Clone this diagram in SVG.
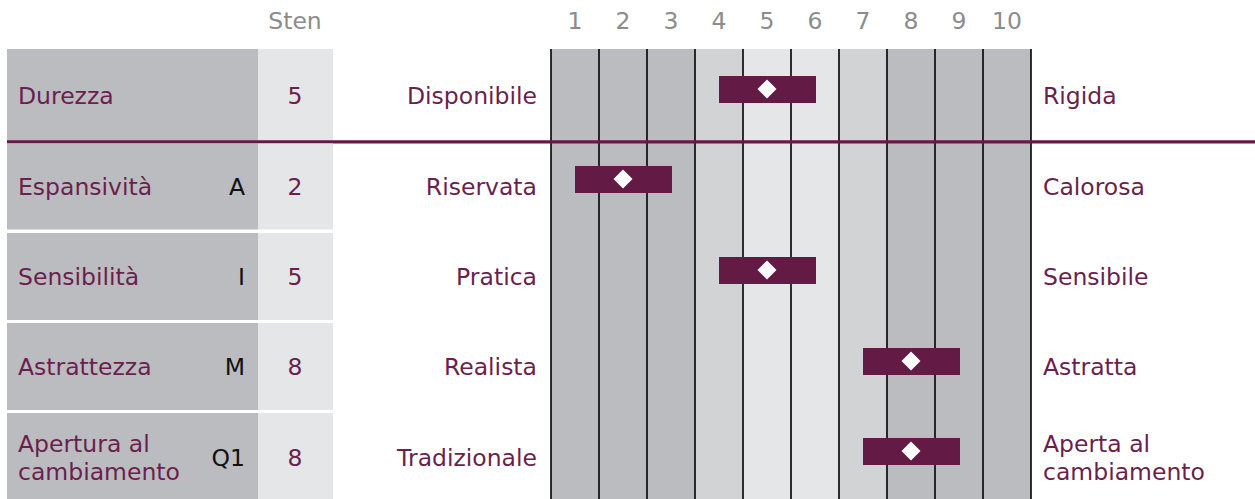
<svg xmlns="http://www.w3.org/2000/svg" width="1255" height="499" viewBox="0 0 1255 499">
<style>
text{font-family:"DejaVu Sans","Verdana",sans-serif;font-size:23.5px}
.lab{fill:#6b1f4d}
.hd{fill:#8c8c8c;text-anchor:middle}
.code{fill:#111;text-anchor:end}
.sten{fill:#6b1f4d;text-anchor:middle}
.lp{fill:#6b1f4d;text-anchor:end}
.rp{fill:#6b1f4d}
.cellL{fill:#bbbcc0}
.cellS{fill:#e5e6e8}
.bar{fill:#631b45}
.dia{fill:#ffffff}
.vl{stroke:#000;stroke-width:1.6}
</style>
<rect width="1255" height="499" fill="#fff"/>
<!-- header -->
<g id="header">
<text class="hd" x="295" y="29">Sten</text>
<text class="hd" x="575" y="29">1</text>
<text class="hd" x="623" y="29">2</text>
<text class="hd" x="671" y="29">3</text>
<text class="hd" x="719" y="29">4</text>
<text class="hd" x="767" y="29">5</text>
<text class="hd" x="815" y="29">6</text>
<text class="hd" x="863" y="29">7</text>
<text class="hd" x="911" y="29">8</text>
<text class="hd" x="959" y="29">9</text>
<text class="hd" x="1007" y="29">10</text>
</g>
<!-- chart background -->
<g id="chart">
<rect x="551" y="49" width="144" height="450" fill="#bbbcc0"/>
<rect x="695" y="49" width="48" height="450" fill="#d2d3d5"/>
<rect x="743" y="49" width="96" height="450" fill="#e5e6e8"/>
<rect x="839" y="49" width="48" height="450" fill="#d2d3d5"/>
<rect x="887" y="49" width="144" height="450" fill="#bbbcc0"/>
<line class="vl" x1="551" y1="49" x2="551" y2="499"/>
<line class="vl" x1="599" y1="49" x2="599" y2="499"/>
<line class="vl" x1="647" y1="49" x2="647" y2="499"/>
<line class="vl" x1="695" y1="49" x2="695" y2="499"/>
<line class="vl" x1="743" y1="49" x2="743" y2="499"/>
<line class="vl" x1="791" y1="49" x2="791" y2="499"/>
<line class="vl" x1="839" y1="49" x2="839" y2="499"/>
<line class="vl" x1="887" y1="49" x2="887" y2="499"/>
<line class="vl" x1="935" y1="49" x2="935" y2="499"/>
<line class="vl" x1="983" y1="49" x2="983" y2="499"/>
<line class="vl" x1="1031" y1="49" x2="1031" y2="499"/>
</g>
<!-- row 1 -->
<g id="row-durezza">
<rect class="cellL" x="7" y="49" width="251" height="92"/>
<rect class="cellS" x="258" y="49" width="75" height="92"/>
<text class="lab" x="18" y="104">Durezza</text>
<text class="sten" x="295" y="104">5</text>
<text class="lp" x="537" y="104">Disponibile</text>
<text class="rp" x="1043" y="104">Rigida</text>
<rect class="bar" x="719" y="76" width="97" height="27"/>
<path class="dia" d="M767 79.5 L776.5 89 L767 98.5 L757.5 89 Z"/>
</g>
<g id="separator">
<line x1="7" y1="141.8" x2="1255" y2="141.8" stroke="#631b45" stroke-width="3.3"/>
</g>
<!-- row 2 -->
<g id="row-espansivita">
<rect class="cellL" x="7" y="143.5" width="251" height="86"/>
<rect class="cellS" x="258" y="143.5" width="75" height="86"/>
<text class="lab" x="18" y="195">Espansività</text>
<text class="code" x="245" y="195">A</text>
<text class="sten" x="295" y="195">2</text>
<text class="lp" x="537" y="195">Riservata</text>
<text class="rp" x="1043" y="195">Calorosa</text>
<rect class="bar" x="575" y="166" width="97" height="27"/>
<path class="dia" d="M623 169.5 L632.5 179 L623 188.5 L613.5 179 Z"/>
</g>
<!-- row 3 -->
<g id="row-sensibilita">
<rect class="cellL" x="7" y="233" width="251" height="87"/>
<rect class="cellS" x="258" y="233" width="75" height="87"/>
<text class="lab" x="18" y="285">Sensibilità</text>
<text class="code" x="245" y="285">I</text>
<text class="sten" x="295" y="285">5</text>
<text class="lp" x="537" y="285">Pratica</text>
<text class="rp" x="1043" y="285">Sensibile</text>
<rect class="bar" x="719" y="257" width="97" height="27"/>
<path class="dia" d="M767 260.5 L776.5 270 L767 279.5 L757.5 270 Z"/>
</g>
<!-- row 4 -->
<g id="row-astrattezza">
<rect class="cellL" x="7" y="323" width="251" height="87"/>
<rect class="cellS" x="258" y="323" width="75" height="87"/>
<text class="lab" x="18" y="375">Astrattezza</text>
<text class="code" x="245" y="375">M</text>
<text class="sten" x="295" y="375">8</text>
<text class="lp" x="537" y="375">Realista</text>
<text class="rp" x="1043" y="375">Astratta</text>
<rect class="bar" x="863" y="348" width="97" height="27"/>
<path class="dia" d="M911 351.5 L920.5 361 L911 370.5 L901.5 361 Z"/>
</g>
<!-- row 5 -->
<g id="row-apertura">
<rect class="cellL" x="7" y="413" width="251" height="86"/>
<rect class="cellS" x="258" y="413" width="75" height="86"/>
<text class="lab" x="18" y="452">Apertura al</text>
<text class="lab" x="18" y="480">cambiamento</text>
<text class="code" x="245" y="466">Q1</text>
<text class="sten" x="295" y="466">8</text>
<text class="lp" x="537" y="466">Tradizionale</text>
<text class="rp" x="1043" y="452">Aperta al</text>
<text class="rp" x="1043" y="480">cambiamento</text>
<rect class="bar" x="863" y="438" width="97" height="27"/>
<path class="dia" d="M911 441.5 L920.5 451 L911 460.5 L901.5 451 Z"/>
</g>
</svg>
